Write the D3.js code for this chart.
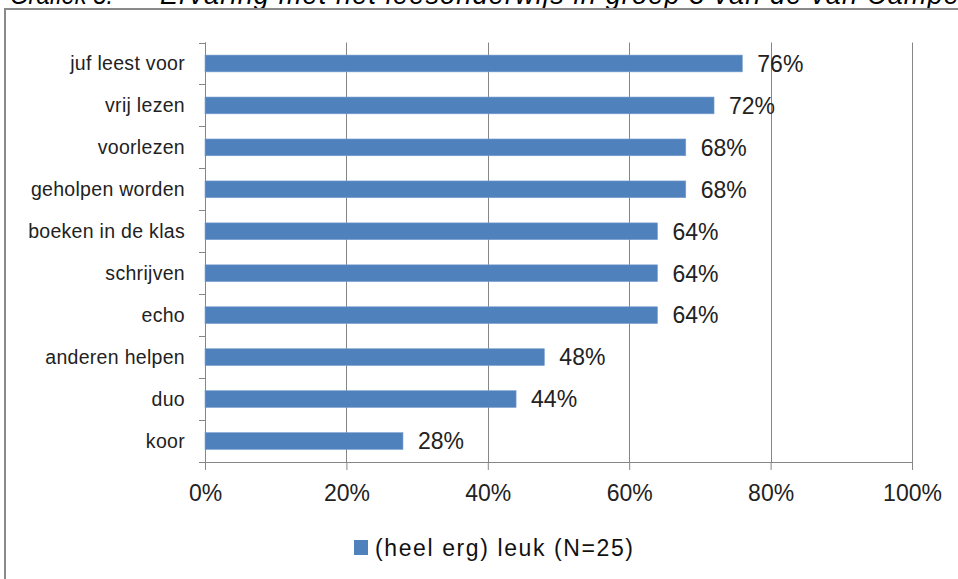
<!DOCTYPE html>
<html>
<head>
<meta charset="utf-8">
<script src="https://cdn.jsdelivr.net/npm/d3@7"></script>
<style>
  html, body { margin: 0; padding: 0; background: #fff; }
  svg { display: block; }
</style>
</head>
<body>
<svg id="chart" width="958" height="579"></svg>
<script>
// Activities, top to bottom, with the share of pupils who find them (very) fun
const categories = ["juf leest voor", "vrij lezen", "voorlezen", "geholpen worden", "boeken in de klas",
                    "schrijven", "echo", "anderen helpen", "duo", "koor"];
const values = [76, 72, 68, 68, 64, 64, 64, 48, 44, 28];
const xTicks = [0, 20, 40, 60, 80, 100];
const seriesName = "(heel erg) leuk (N=25)";
const titleLabel = "Grafiek 8:";
const titleText = "Ervaring met het leesonderwijs in groep 3 van de van Campen";

const svg = d3.select("#chart");
const gridColor = "#868686";
const barColor = "#4F81BD";
const font = "'Liberation Sans', Arial, sans-serif";

// Caption above the chart frame
const caption = svg.append("g")
  .attr("font-family", font).attr("font-style", "italic")
  .attr("font-size", 27).attr("fill", "#000");
caption.append("text").attr("x", 10).attr("y", 4)
  .attr("textLength", 103).attr("lengthAdjust", "spacingAndGlyphs")
  .text(titleLabel);
caption.append("text").attr("x", 160).attr("y", 4)
  .attr("textLength", 815).attr("lengthAdjust", "spacing")
  .text(titleText);

// Chart frame
svg.append("rect")
  .attr("x", 5).attr("y", 9).attr("width", 1100).attr("height", 700)
  .attr("fill", "none").attr("stroke", "#8a8a8a").attr("stroke-width", 2);

const plot = { left: 205, right: 912, top: 42.5, bottom: 462 };

const x = d3.scaleLinear().domain([0, 100]).range([plot.left, plot.right]);
const y = d3.scaleBand().domain(categories).range([plot.top, plot.bottom]).paddingInner(0.6).paddingOuter(0.3);
const yStep = y.step();

// Vertical gridlines
svg.append("g").selectAll("line").data(xTicks).join("line")
  .attr("x1", d => Math.round(x(d)) + 0.5).attr("x2", d => Math.round(x(d)) + 0.5)
  .attr("y1", plot.top).attr("y2", plot.bottom)
  .attr("stroke", gridColor).attr("stroke-width", 1);

// Bars
svg.append("g").selectAll("rect").data(categories).join("rect")
  .attr("x", x(0))
  .attr("y", d => y(d))
  .attr("width", (d, i) => x(values[i]) - x(0))
  .attr("height", y.bandwidth())
  .attr("fill", barColor)
  .attr("stroke", "#7a9fd0").attr("stroke-width", 0.6);

// X axis
const xAxis = d3.axisBottom(x).tickValues(xTicks).tickFormat(d => d + "%").tickSize(8).tickSizeOuter(0).tickPadding(15);
const gx = svg.append("g").attr("transform", `translate(0,${plot.bottom})`).call(xAxis);
gx.select(".domain").attr("stroke", gridColor);
gx.selectAll(".tick line").attr("stroke", gridColor);
gx.selectAll(".tick text").attr("font-family", font).attr("font-size", 23).attr("fill", "#222");

// Y axis (category labels, ticks between bands)
const gy = svg.append("g").attr("transform", `translate(${plot.left},0)`);
gy.append("line")
  .attr("x1", 0.5).attr("x2", 0.5).attr("y1", plot.top).attr("y2", plot.bottom + 8)
  .attr("stroke", gridColor);
const boundaries = d3.range(categories.length + 1).map(i => plot.top + i * yStep);
gy.selectAll("line.tick").data(boundaries).join("line")
  .attr("class", "tick")
  .attr("x1", -6).attr("x2", 0)
  .attr("y1", d => Math.round(d) + 0.5).attr("y2", d => Math.round(d) + 0.5)
  .attr("stroke", gridColor);
gy.selectAll("text").data(categories).join("text")
  .attr("x", -20)
  .attr("y", d => y(d) + y.bandwidth() / 2)
  .attr("dy", "0.35em")
  .attr("text-anchor", "end")
  .attr("font-family", font).attr("font-size", 19.5).attr("letter-spacing", 0.3).attr("fill", "#222")
  .text(d => d);

// Value labels
svg.append("g").selectAll("text").data(categories).join("text")
  .attr("x", (d, i) => x(values[i]) + 15)
  .attr("y", d => y(d) + y.bandwidth() / 2)
  .attr("dy", "0.36em")
  .attr("font-family", font).attr("font-size", 23).attr("fill", "#222")
  .text((d, i) => values[i] + "%");

// Legend
const legend = svg.append("g").attr("transform", "translate(354,540)");
legend.append("rect").attr("x", 0).attr("y", 0).attr("width", 14).attr("height", 15).attr("fill", barColor);
legend.append("text")
  .attr("x", 21).attr("y", 8).attr("dy", "0.36em")
  .attr("font-family", font).attr("font-size", 23).attr("letter-spacing", 1.6).attr("fill", "#111")
  .text(seriesName);
</script>
</body>
</html>
